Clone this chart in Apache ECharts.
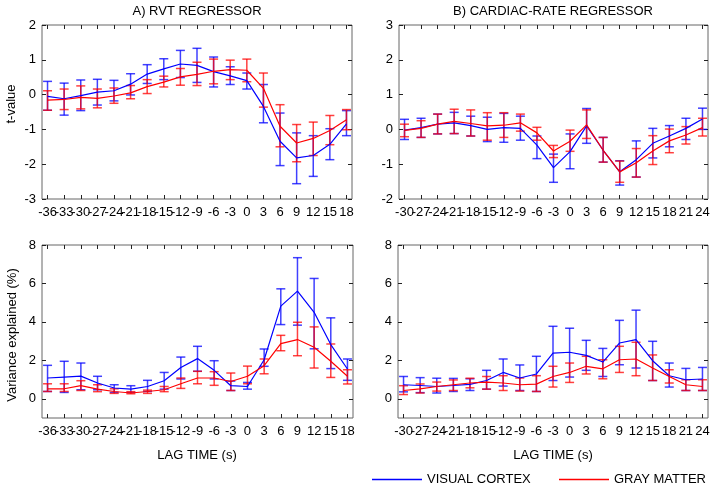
<!DOCTYPE html>
<html><head><meta charset="utf-8">
<script src="https://cdn.jsdelivr.net/npm/echarts@6/dist/echarts.min.js"></script>
<style>html,body{margin:0;padding:0;background:#fff}#c{width:714px;height:491px}</style>
</head><body><div id="c"></div>
<script>
// ---------- DATA ----------
const lagRVT  = [-36,-33,-30,-27,-24,-21,-18,-15,-12,-9,-6,-3,0,3,6,9,12,15,18];
const lagCard = [-30,-27,-24,-21,-18,-15,-12,-9,-6,-3,0,3,6,9,12,15,18,21,24];
const yTicksT = [-3,-2,-1,0,1,2,3];
const yTicksV = [0,2,4,6,8];

// A) RVT t-value
const rvtT_VC    = [-0.05,-0.12,-0.03,0.07,0.11,0.30,0.59,0.74,0.88,0.84,0.66,0.54,0.40,-0.34,-1.34,-1.82,-1.75,-1.43,-0.84];
const rvtT_VC_hi = [0.38,0.33,0.42,0.44,0.41,0.60,0.86,1.03,1.27,1.33,1.08,0.80,0.62,0.29,-0.53,-1.10,-1.18,-0.98,-0.46];
const rvtT_VC_lo = [-0.45,-0.59,-0.46,-0.30,-0.18,-0.01,0.32,0.43,0.49,0.35,0.22,0.29,0.16,-0.81,-2.04,-2.56,-2.35,-1.87,-1.18];
const rvtT_GM    = [-0.16,-0.14,-0.08,-0.11,-0.04,0.05,0.23,0.36,0.51,0.58,0.67,0.72,0.70,0.18,-0.91,-1.39,-1.26,-1.03,-0.72];
const rvtT_GM_hi = [0.11,0.16,0.25,0.16,0.19,0.26,0.43,0.53,0.75,0.93,1.02,0.99,1.02,0.62,-0.29,-0.86,-0.79,-0.60,-0.43];
const rvtT_GM_lo = [-0.45,-0.43,-0.41,-0.38,-0.25,-0.12,0.03,0.22,0.27,0.26,0.31,0.43,0.37,-0.36,-1.50,-1.93,-1.75,-1.44,-1.01];

// B) Cardiac-rate t-value
const crT_VC    = [-0.02,0.05,0.15,0.19,0.11,0.00,0.05,0.03,-0.45,-1.10,-0.64,0.10,-0.60,-1.22,-0.87,-0.40,-0.19,0.03,0.30];
const crT_VC_hi = [0.29,0.32,0.44,0.49,0.38,0.35,0.46,0.38,-0.19,-0.71,-0.13,0.60,-0.23,-0.90,-0.33,0.03,0.11,0.32,0.61];
const crT_VC_lo = [-0.29,-0.23,-0.13,-0.12,-0.19,-0.35,-0.37,-0.31,-0.84,-1.52,-1.13,-0.40,-0.94,-1.60,-1.37,-0.82,-0.50,-0.29,0.00];
const crT_GM    = [-0.03,0.03,0.15,0.23,0.17,0.10,0.12,0.19,-0.10,-0.62,-0.34,0.13,-0.60,-1.22,-0.96,-0.62,-0.33,-0.16,0.05];
const crT_GM_hi = [0.15,0.25,0.44,0.58,0.56,0.48,0.48,0.44,0.06,-0.46,-0.02,0.56,-0.23,-0.91,-0.55,-0.18,0.01,0.08,0.32];
const crT_GM_lo = [-0.21,-0.23,-0.13,-0.12,-0.19,-0.31,-0.23,-0.05,-0.31,-0.81,-0.63,-0.26,-0.94,-1.52,-1.37,-1.01,-0.67,-0.42,-0.19];

// C) RVT variance explained (%)
const rvtV_VC    = [1.08,1.13,1.18,0.82,0.56,0.50,0.64,0.94,1.63,2.09,1.48,0.68,0.64,2.03,4.82,5.60,4.50,2.82,1.55];
const rvtV_VC_hi = [1.74,1.95,1.86,1.17,0.73,0.68,0.96,1.37,2.17,2.73,1.98,0.92,0.85,2.59,5.72,7.34,6.26,4.21,2.07];
const rvtV_VC_lo = [0.38,0.33,0.47,0.47,0.33,0.33,0.38,0.50,1.03,1.43,1.03,0.43,0.50,1.69,3.86,3.83,2.60,1.57,0.96];
const rvtV_GM    = [0.52,0.52,0.68,0.50,0.38,0.30,0.38,0.47,0.78,1.08,1.08,0.90,1.17,1.72,2.87,3.08,2.68,1.95,1.17];
const rvtV_GM_hi = [0.78,0.78,0.94,0.73,0.52,0.37,0.45,0.64,1.08,1.43,1.41,1.34,1.70,2.07,3.30,3.98,3.74,2.85,1.51];
const rvtV_GM_lo = [0.38,0.38,0.43,0.37,0.28,0.26,0.28,0.37,0.54,0.78,0.70,0.43,0.78,1.30,2.50,2.24,1.60,1.11,0.77];

// D) Cardiac-rate variance explained (%)
const crV_VC    = [0.73,0.69,0.64,0.69,0.75,0.95,1.37,1.08,1.29,2.38,2.42,2.26,1.91,2.90,3.08,1.98,1.20,0.99,1.03];
const crV_VC_hi = [1.16,1.10,1.07,1.06,1.04,1.48,2.07,1.76,2.21,3.77,3.67,3.04,2.62,4.08,4.61,2.99,1.86,1.58,1.63];
const crV_VC_lo = [0.36,0.32,0.30,0.38,0.43,0.50,0.66,0.43,0.38,0.95,1.13,1.48,1.16,1.77,1.60,0.95,0.61,0.43,0.43];
const crV_GM    = [0.43,0.52,0.64,0.73,0.82,0.87,0.82,0.73,0.76,1.16,1.37,1.69,1.56,2.03,2.07,1.60,1.16,0.73,0.64];
const crV_GM_hi = [0.68,0.77,0.87,0.98,1.07,1.16,1.20,1.08,1.20,1.69,1.86,2.21,2.03,2.73,2.94,2.28,1.51,0.99,0.99];
const crV_GM_lo = [0.22,0.30,0.40,0.43,0.57,0.50,0.43,0.40,0.38,0.61,0.85,1.29,1.04,1.37,1.20,0.95,0.82,0.43,0.43];

// ---------- CHART ----------
const BLUE = '#0000ff', RED = '#ff0000';
const FONT = 'Liberation Sans, Arial, Helvetica, sans-serif';
const chart = echarts.init(document.getElementById('c'), null, {renderer:'canvas'});

const grids = [
  {left:42, top:25, width:310, height:174},
  {left:399, top:25, width:309, height:174},
  {left:42, top:245, width:311, height:173},
  {left:398, top:245, width:310, height:173}
].map(g => Object.assign({show:true, borderColor:'#666', borderWidth:1, backgroundColor:'#fff'}, g));

const xRanges = [[-37,19,lagRVT],[-31,25,lagCard],[-37,19,lagRVT],[-31,25,lagCard]];
const yRanges = [[-3,2,yTicksT.slice(0,6)],[-2,3,yTicksT.slice(1)],[-1,8,yTicksV],[-1,8,yTicksV]];

const tickStyle = {color:'#222'};
const labelStyle = {show:true, margin:7, color:'#000', fontSize:13, fontFamily:FONT,
  hideOverlap:false, showMinLabel:true, showMaxLabel:true};
const xAxis = [], yAxis = [];
// per grid: xAxis[3i] main (ticks + even labels), [3i+1] odd labels, [3i+2] top ticks
for (let i=0;i<4;i++){
  const [mn,mx,cats] = xRanges[i];
  const even = cats.filter((v,k)=>k%2===0), odd = cats.filter((v,k)=>k%2===1);
  xAxis.push({type:'value', gridIndex:i, min:mn, max:mx, position:'bottom',
    axisLine:{show:false, onZero:false}, splitLine:{show:false},
    axisTick:{show:true, inside:true, length:4, customValues:cats, lineStyle:tickStyle},
    axisLabel:Object.assign({customValues:even}, labelStyle)});
  xAxis.push({type:'value', gridIndex:i, min:mn, max:mx, position:'bottom', offset:0,
    axisLine:{show:false, onZero:false}, splitLine:{show:false},
    axisTick:{show:false},
    axisLabel:Object.assign({customValues:odd}, labelStyle)});
  xAxis.push({type:'value', gridIndex:i, min:mn, max:mx, position:'top',
    axisLine:{show:false, onZero:false}, splitLine:{show:false},
    axisTick:{show:true, inside:true, length:4, customValues:cats, lineStyle:tickStyle},
    axisLabel:{show:false}});
  const [ymn,ymx,yt] = yRanges[i];
  yAxis.push({type:'value', gridIndex:i, min:ymn, max:ymx, position:'left',
    axisLine:{show:false, onZero:false}, splitLine:{show:false},
    axisTick:{show:true, inside:true, length:4, customValues:yt, lineStyle:tickStyle},
    axisLabel:{show:true, customValues:yt, margin:6, color:'#000', fontSize:13, fontFamily:FONT,
      showMinLabel:true, showMaxLabel:true, hideOverlap:false}});
  yAxis.push({type:'value', gridIndex:i, min:ymn, max:ymx, position:'right',
    axisLine:{show:false, onZero:false}, splitLine:{show:false},
    axisTick:{show:true, inside:true, length:4, customValues:yt, lineStyle:tickStyle},
    axisLabel:{show:false}});
}

function zip2(xs, ys){ return xs.map((x,i)=>[x, ys[i]]); }
function zip3(xs, lo, hi){ return xs.map((x,i)=>[x, lo[i], hi[i]]); }

function errSeries(name, gi, data, color){
  return {type:'custom', name:name, xAxisIndex:gi*3, yAxisIndex:gi*2, data:data,
    encode:{x:0, y:[1,2]}, silent:true, z:2,
    renderItem:function(params, api){
      const x = api.value(0), lo = api.value(1), hi = api.value(2);
      const a = api.coord([x,hi]), b = api.coord([x,lo]);
      const w = 4.5;
      const st = {stroke:color, lineWidth:1.5, opacity:0.75};
      return {type:'group', children:[
        {type:'line', shape:{x1:a[0],y1:a[1],x2:b[0],y2:b[1]}, style:st},
        {type:'line', shape:{x1:a[0]-w,y1:a[1],x2:a[0]+w,y2:a[1]}, style:st},
        {type:'line', shape:{x1:b[0]-w,y1:b[1],x2:b[0]+w,y2:b[1]}, style:st}
      ]};
    }};
}
function lineSeries(name, gi, data, color){
  return {type:'line', name:name, xAxisIndex:gi*3, yAxisIndex:gi*2, data:data, color:color,
    showSymbol:false, symbol:'none', z:3, lineStyle:{color:color, width:1.2}, itemStyle:{color:color}};
}

const panels = [
  [lagRVT, rvtT_VC, rvtT_VC_lo, rvtT_VC_hi, rvtT_GM, rvtT_GM_lo, rvtT_GM_hi],
  [lagCard, crT_VC, crT_VC_lo, crT_VC_hi, crT_GM, crT_GM_lo, crT_GM_hi],
  [lagRVT, rvtV_VC, rvtV_VC_lo, rvtV_VC_hi, rvtV_GM, rvtV_GM_lo, rvtV_GM_hi],
  [lagCard, crV_VC, crV_VC_lo, crV_VC_hi, crV_GM, crV_GM_lo, crV_GM_hi]
];
const series = [];
panels.forEach((p,gi)=>{
  series.push(lineSeries('VISUAL CORTEX', gi, zip2(p[0],p[1]), BLUE));
  series.push(lineSeries('GRAY MATTER', gi, zip2(p[0],p[4]), RED));
});
panels.forEach((p,gi)=>{
  series.push(errSeries('VC err', gi, zip3(p[0],p[2],p[3]), BLUE));
  series.push(errSeries('GM err', gi, zip3(p[0],p[5],p[6]), RED));
});

const txt = (x,y,s,extra) => Object.assign({type:'text', x:x, y:y,
  style:{text:s, fill:'#000', font:'13px '+FONT, textAlign:'center', textVerticalAlign:'middle'}}, extra||{});
const legendBase = {icon:'path://M0,0H50V1.4H0Z', itemWidth:50, itemHeight:1.4, top:473, padding:0,
  textStyle:{fontSize:13, fontFamily:FONT, color:'#000'}};

chart.setOption({
  animation:false,
  grid:grids, xAxis:xAxis, yAxis:yAxis, series:series,
  legend:[
    Object.assign({data:[{name:'VISUAL CORTEX', itemStyle:{color:BLUE, borderWidth:0, opacity:1}, lineStyle:{color:BLUE}}], left:372,
      itemStyle:{color:BLUE, borderWidth:0}}, legendBase),
    Object.assign({data:[{name:'GRAY MATTER', itemStyle:{color:RED, borderWidth:0, opacity:1}, lineStyle:{color:RED}}], left:559,
      itemStyle:{color:RED, borderWidth:0}}, legendBase)
  ],
  graphic:[
    txt(197,11,'A) RVT REGRESSOR'),
    txt(553,11,'B) CARDIAC-RATE REGRESSOR'),
    txt(197,455,'LAG TIME (s)'),
    txt(553,455,'LAG TIME (s)'),
    {type:'text', x:11, y:104, rotation:Math.PI/2,
      style:{text:'t-value', fill:'#000', font:'13px '+FONT, textAlign:'center', textVerticalAlign:'middle'}},
    {type:'text', x:12, y:335, rotation:Math.PI/2,
      style:{text:'Variance explained (%)', fill:'#000', font:'13px '+FONT, textAlign:'center', textVerticalAlign:'middle'}}
  ]
});
</script></body></html>
